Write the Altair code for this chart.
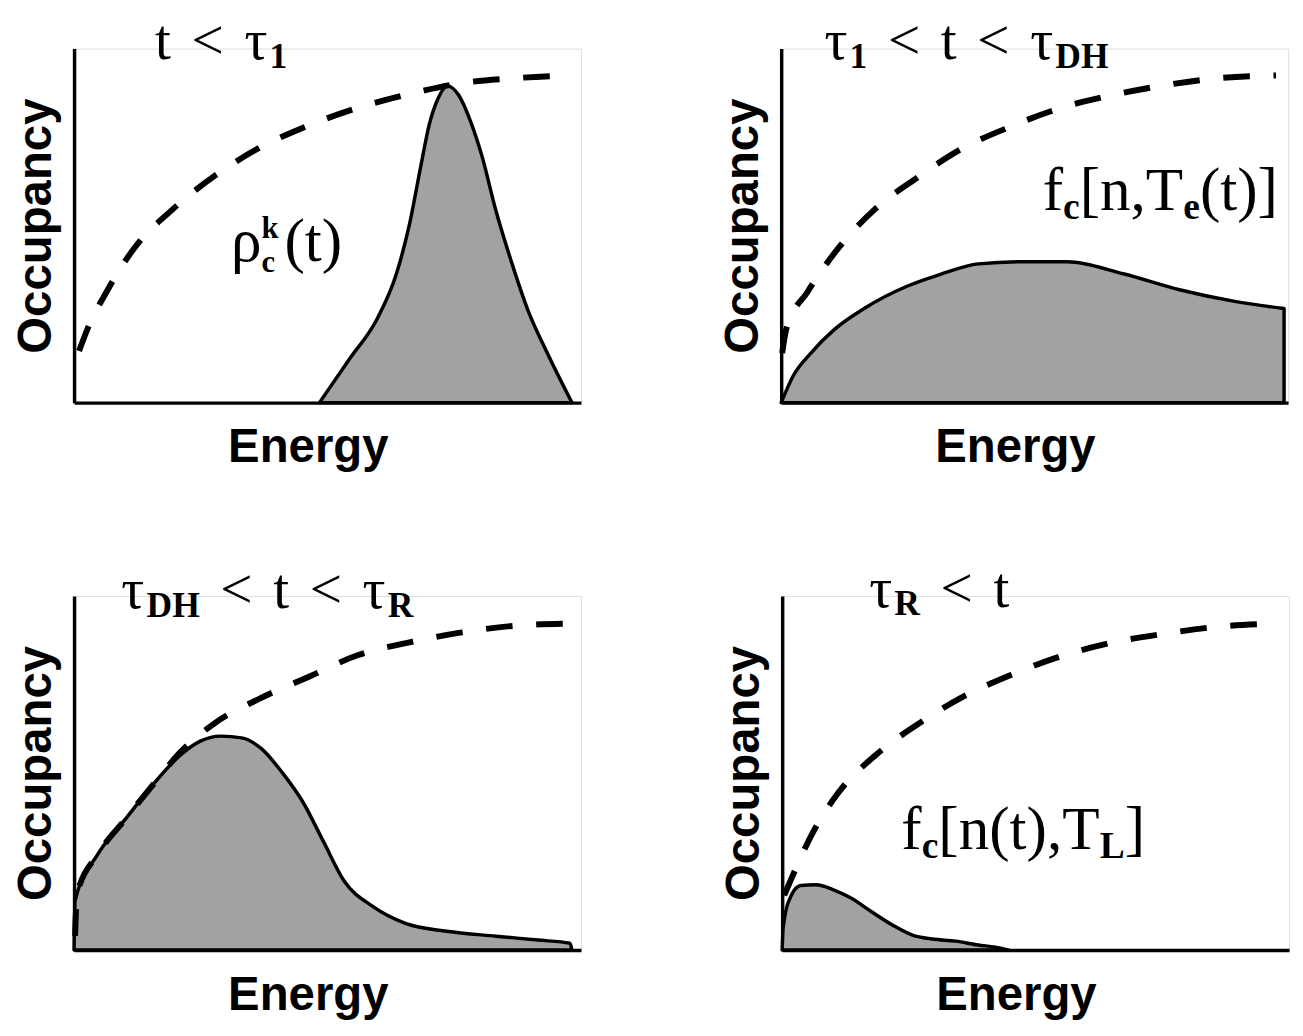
import altair as alt
import pandas as pd

# ---------------- data (Energy 0..10, Occupancy 0..1) -------------
P1_DASH_E   = [0.10, 0.29, 0.65, 1.20, 1.96, 2.80, 3.69, 4.65, 5.63, 6.65, 7.69, 8.73, 9.84]
P1_DASH_OCC = [0.146, 0.216, 0.314, 0.437, 0.546, 0.641, 0.720, 0.782, 0.832, 0.871, 0.902, 0.916, 0.924]
P1_FILL_E   = [4.88, 5.49, 6.02, 6.41, 6.67, 6.90, 7.06, 7.24, 7.43, 7.65, 7.88, 8.12, 8.37, 8.71, 9.02, 9.41, 9.90]
P1_FILL_OCC = [0.0, 0.126, 0.235, 0.364, 0.504, 0.672, 0.784, 0.860, 0.894, 0.868, 0.796, 0.692, 0.552, 0.392, 0.263, 0.140, 0.0]

P2_DASH_E   = [0.02, 0.10, 0.53, 1.14, 1.86, 2.71, 3.59, 4.55, 5.55, 6.57, 7.61, 8.67, 9.84]
P2_DASH_OCC = [0.140, 0.207, 0.314, 0.437, 0.546, 0.636, 0.717, 0.779, 0.832, 0.868, 0.896, 0.916, 0.924]
P2_FILL_E   = [0.0, 0.24, 0.59, 1.06, 1.65, 2.49, 3.14, 3.92, 4.84, 5.69, 6.80, 7.92, 9.02, 10.0]
P2_FILL_OCC = [0.0, 0.076, 0.140, 0.207, 0.266, 0.328, 0.361, 0.392, 0.398, 0.398, 0.364, 0.319, 0.286, 0.266]

P3_DASH_E   = [0.02, 0.06, 0.47, 1.04, 1.61, 2.10, 2.80, 3.69, 4.67, 5.65, 6.67, 7.71, 8.78, 9.86]
P3_DASH_OCC = [0.04, 0.159, 0.270, 0.373, 0.474, 0.557, 0.641, 0.710, 0.772, 0.833, 0.869, 0.897, 0.916, 0.922]
P3_FILL_E   = [0.0, 0.02, 0.47, 1.04, 1.61, 2.10, 2.51, 2.92, 3.33, 3.73, 4.14, 4.55, 4.96, 5.37, 5.94, 6.59, 7.41, 8.39, 9.22, 9.86, 9.90]
P3_FILL_OCC = [0.0, 0.139, 0.270, 0.373, 0.474, 0.549, 0.590, 0.604, 0.599, 0.568, 0.501, 0.418, 0.306, 0.195, 0.123, 0.075, 0.053, 0.039, 0.028, 0.019, 0.0]

P4_DASH_E   = [0.04, 0.25, 0.57, 1.10, 1.88, 2.69, 3.59, 4.55, 5.55, 6.59, 7.63, 8.67, 9.80]
P4_DASH_OCC = [0.154, 0.223, 0.321, 0.441, 0.553, 0.637, 0.715, 0.777, 0.830, 0.869, 0.894, 0.913, 0.922]
P4_FILL_E   = [0.0, 0.02, 0.18, 0.37, 0.67, 1.02, 1.35, 1.80, 2.20, 2.59, 2.98, 3.45, 3.90, 4.24, 4.50]
P4_FILL_OCC = [0.0, 0.064, 0.154, 0.182, 0.184, 0.170, 0.148, 0.106, 0.070, 0.042, 0.031, 0.025, 0.014, 0.008, 0.0]

# label texts: (text, role[, stacked])
T1 = [("t < τ", "main"), ("1", "sub")]
T2 = [("τ", "main"), ("1", "sub"), (" < t < τ", "main"), ("DH", "sub")]
T3 = [("τ", "main"), ("DH", "sub"), (" < t < τ", "main"), ("R", "sub")]
T4 = [("τ", "main"), ("R", "sub"), (" < t", "main")]
A1 = [("ρ", "main"), ("k", "sup"), ("c", "sub", True), ("(t)", "main")]
A2 = [("f", "main"), ("c", "sub"), ("[n,T", "main"), ("e", "sub"), ("(t)]", "main")]
A4 = [("f", "main"), ("c", "sub"), ("[n(t),T", "main"), ("L", "sub"), ("]", "main")]

# label anchors (left edge, baseline) in data units
T1_AT, T2_AT, T3_AT, T4_AT = (1.61, 0.970), (0.86, 0.970), (0.94, 0.966), (1.73, 0.970)
A1_AT, A2_AT, A4_AT = (3.12, 0.40), (5.20, 0.543), (2.37, 0.285)

# ---------------- styling ----------------
SERIF = "Liberation Serif"
SANS = "Liberation Sans"
TITLE_SIZES = (58, 36, 9, -25)      # main, small, sub dy, sup dy
ANN_SIZES = (62, 38, 9, -25)
RHO_SIZES = (62, 31, 11, -23)
SPACE_EM = 0.36
STACK_GAP = 6
W = 514
H = 359
X_DOMAIN = [0, 10.08]
W_REG = {"t": 278, "<": 564, "(": 333, ")": 333, "[": 333, "]": 333, "f": 333,
         "n": 500, ",": 250, "T": 611, "τ": 440, "ρ": 500}
W_BOLD = {"1": 500, "D": 722, "H": 778, "R": 722, "c": 444, "e": 444, "L": 667, "k": 556}


def width(text, bold, size):
    table = W_BOLD if bold else W_REG
    return sum(table.get(ch, 500) for ch in text) / 1000.0 * size


def enc():
    xs = alt.Scale(domain=X_DOMAIN, nice=False, zero=False)
    ys = alt.Scale(domain=[0, 1], nice=False, zero=False)
    xax = alt.Axis(title="Energy", labels=False, ticks=False, grid=False,
                   domainColor="black", domainWidth=3.5,
                   titleFont=SANS, titleFontSize=48, titleFontWeight="bold",
                   titleColor="black", titlePadding=22, titleX=W / 2 - 20)
    yax = alt.Axis(title="Occupancy", labels=False, ticks=False, grid=False,
                   domainColor="black", domainWidth=3.5,
                   titleFont=SANS, titleFontSize=48, titleFontWeight="bold",
                   titleColor="black", titlePadding=14)
    return alt.X("E:Q", scale=xs, axis=xax), alt.Y("occ:Q", scale=ys, axis=yax)


def text_layer(word, at, dx, dy, size, bold):
    x_enc, y_enc = enc()
    df = pd.DataFrame({"E": [at[0]], "occ": [at[1]], "txt": [word]})
    return (alt.Chart(df)
            .mark_text(align="left", baseline="alphabetic", font=SERIF, fontSize=size,
                       fontWeight="bold" if bold else "normal", color="black",
                       dx=round(dx, 1), dy=dy)
            .encode(x=x_enc, y=y_enc, text="txt:N"))


def label_layers(segs, at, sizes):
    main_size, small_size, sub_dy, sup_dy = sizes
    layers = []
    cur = 0.0
    prev_x, prev_w = 0.0, 0.0
    for s in segs:
        text, role = s[0], s[1]
        stacked = len(s) > 2 and s[2]
        bold = role != "main"
        size = main_size if role == "main" else small_size
        dy = 0 if role == "main" else (sub_dy if role == "sub" else sup_dy)
        x0 = prev_x if stacked else cur
        pos = x0
        words = text.split(" ")
        for i, wd in enumerate(words):
            if i > 0:
                pos += SPACE_EM * size
            if wd:
                layers.append(text_layer(wd, at, pos, dy, size, bold))
                pos += width(wd, bold, size)
        w = pos - x0
        cur = prev_x + max(prev_w, w) + STACK_GAP if stacked else pos
        prev_x, prev_w = x0, w
    return layers


def panel(dE, dO, fE, fO, title, title_at, ann=None, ann_at=None, ann_sizes=ANN_SIZES):
    x_enc, y_enc = enc()
    fill = alt.Chart(pd.DataFrame({"E": fE, "occ": fO})).mark_area(
        interpolate="monotone", fill="#a2a2a2", stroke="black", strokeWidth=3.5,
        strokeJoin="round", opacity=1).encode(x=x_enc, y=y_enc)
    dash = alt.Chart(pd.DataFrame({"E": dE, "occ": dO})).mark_line(
        interpolate="monotone", color="black", strokeWidth=6,
        strokeDash=[27, 24], strokeCap="butt").encode(x=x_enc, y=y_enc)
    layers = [fill, dash] + label_layers(title, title_at, TITLE_SIZES)
    if ann is not None:
        layers += label_layers(ann, ann_at, ann_sizes)
    return alt.layer(*layers).properties(width=W, height=H)


p1 = panel(P1_DASH_E, P1_DASH_OCC, P1_FILL_E, P1_FILL_OCC, T1, T1_AT, A1, A1_AT, RHO_SIZES)
p2 = panel(P2_DASH_E, P2_DASH_OCC, P2_FILL_E, P2_FILL_OCC, T2, T2_AT, A2, A2_AT)
p3 = panel(P3_DASH_E, P3_DASH_OCC, P3_FILL_E, P3_FILL_OCC, T3, T3_AT)
p4 = panel(P4_DASH_E, P4_DASH_OCC, P4_FILL_E, P4_FILL_OCC, T4, T4_AT, A4, A4_AT)

chart = alt.vconcat(
    alt.hconcat(p1, p2, spacing=139),
    alt.hconcat(p3, p4, spacing=139),
    spacing=89,
).configure_view(stroke=None).configure(background="white").properties(
    padding={"left": 4, "top": -2, "right": 5, "bottom": 5})

chart.save("out.html", embed_options={"renderer": "svg", "actions": False})
